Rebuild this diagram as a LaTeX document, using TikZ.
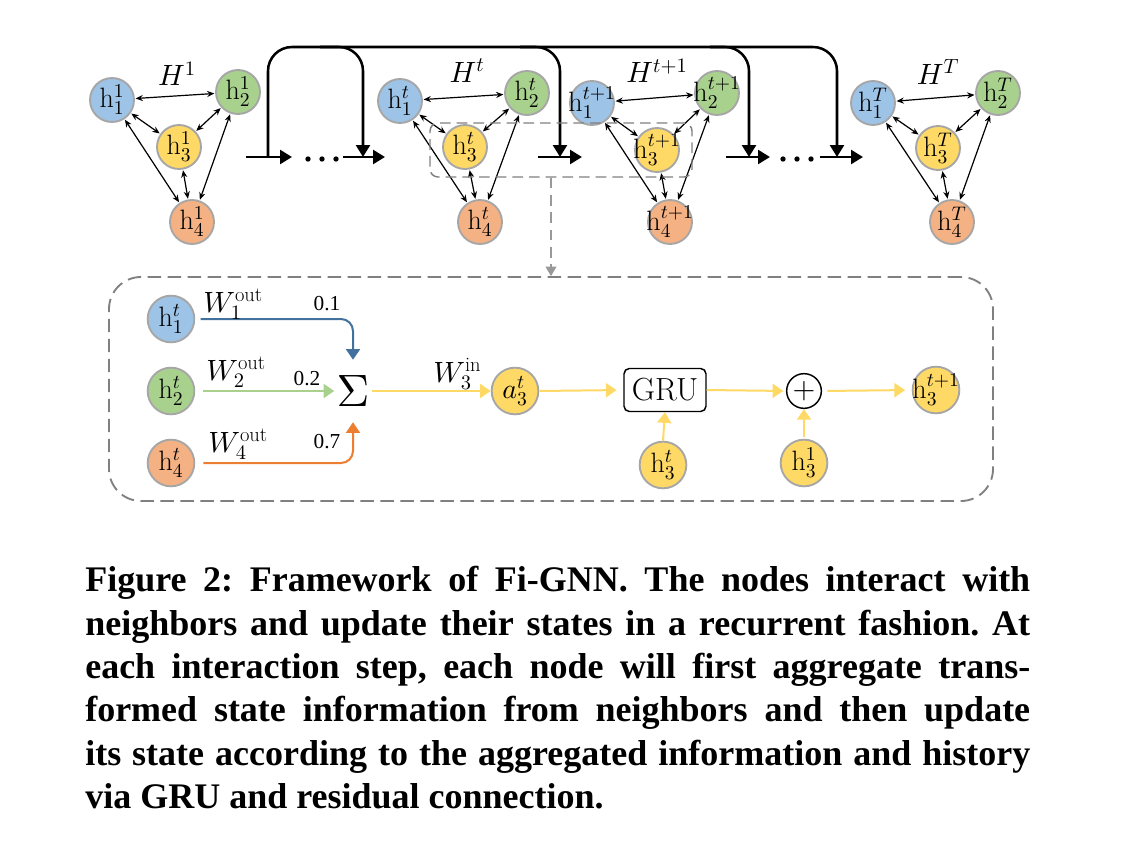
\documentclass[tikz,border=0pt]{standalone}
\DeclareFontShape{OML}{cmm}{m}{it}{<->cmmi10}{}
\DeclareFontShape{OMS}{cmsy}{m}{n}{<->cmsy10}{}
\DeclareFontShape{OMX}{cmex}{m}{n}{<->cmex10}{}
\DeclareFontShape{OT1}{cmr}{m}{n}{<->cmr10}{}
\usepackage{fontspec}
\newfontfamily\capfont{Liberation Serif}
\usetikzlibrary{arrows.meta,calc}
\definecolor{nblue}{HTML}{9DC3E6}
\definecolor{ngreen}{HTML}{A9D18E}
\definecolor{nyellow}{HTML}{FFD966}
\definecolor{norange}{HTML}{F4B183}
\definecolor{nborder}{HTML}{A6A6A6}
\definecolor{lblue}{HTML}{41719C}
\definecolor{lgreen}{HTML}{A9D18E}
\definecolor{lorange}{HTML}{ED7D31}
\definecolor{lyellow}{HTML}{FFD966}
\definecolor{dgray}{HTML}{808080}
\newcommand\labfont{\fontsize{21}{24}\selectfont}
\newcommand\wfont{\fontsize{22}{25}\selectfont}
\newcommand\fourgraph[6]{%
  \node[tn,fill=nblue,label={[lab]center:$\mathrm{h}_1^{#2}$}] (#1a) at #3 {};
  \node[tn,fill=ngreen,label={[lab]center:$\mathrm{h}_2^{#2}$}] (#1b) at #4 {};
  \node[tn,fill=nyellow,label={[lab]center:$\mathrm{h}_3^{#2}$}] (#1c) at #5 {};
  \node[tn,fill=norange,label={[lab]center:$\mathrm{h}_4^{#2}$}] (#1d) at #6 {};
  \draw[edge] (#1a) -- (#1b);
  \draw[edge] (#1a) -- (#1c);
  \draw[edge] (#1b) -- (#1c);
  \draw[edge] (#1a) -- (#1d);
  \draw[edge] (#1b) -- (#1d);
  \draw[edge] (#1c) -- (#1d);
}
\begin{document}
\begin{tikzpicture}[x=0.75pt,y=-0.75pt,
  tn/.style={circle,draw=nborder,line width=1.4pt,minimum size=33pt,inner sep=0pt},
  ln/.style={circle,draw=nborder,line width=1.4pt,minimum size=35pt,inner sep=0pt},
  lab/.style={font=\labfont,inner sep=0pt},
  edge/.style={line width=0.9pt,{Stealth[length=5.5pt,width=4.6pt]}-{Stealth[length=5.5pt,width=4.6pt]},shorten <=0.5pt,shorten >=0.5pt},
  main/.style={line width=1.9pt,-{Triangle[length=9pt,width=10.5pt]}},
  cb/.style={line width=1.5pt,rounded corners=9pt,-{Triangle[length=8pt,width=10.5pt]}},
  glab/.style={font=\wfont,inner sep=0pt},
  wlab/.style={font=\wfont,inner sep=0pt,anchor=base west},
  num/.style={font=\capfont\fontsize{16}{18}\selectfont,inner sep=0pt,anchor=base}
]
\useasboundingbox (0,0) rectangle (1132,846);
\fill[white] (0,0) rectangle (1132,846);

% ---------- top graphs ----------
\fourgraph{g1}{1}{(112,100)}{(238,92)}{(179,147)}{(192,222)}
\fourgraph{gt}{t}{(400,101)}{(527,93)}{(465,147)}{(480,222)}
\fourgraph{gs}{t+1}{(592,103)}{(717,93)}{(657,150)}{(670,222)}
\fourgraph{gT}{T}{(873,103)}{(998,93)}{(938,148)}{(952,222)}

\node[glab] (H1) at (177,74) {$H^1$};
\node[glab] (Ht) at (467,71) {$H^t$};
\node[glab] (Hs) at (657,71) {$H^{t+1}$};
\node[glab] (HT) at (938,72) {$H^T$};

% ---------- recurrent arrows ----------
\draw[main] (246,157) -- (292,157);
\draw[main,rounded corners=18pt] (268,157) -- (268,47) -- (837,47) -- (837,157);
\draw[main,rounded corners=18pt] (320,47) -- (363,47) -- (363,157);
\draw[main,rounded corners=18pt] (520,47) -- (560,47) -- (560,157);
\draw[main,rounded corners=18pt] (710,47) -- (749,47) -- (749,157);
\draw[main] (343,157) -- (385,157);
\draw[main] (538,157) -- (582,157);
\draw[main] (726,157) -- (770,157);
\draw[main] (820,157) -- (863,157);
\foreach \xx in {308,322,336,783,797,811}{\fill (\xx,159) circle (2pt);}

% ---------- dashed boxes ----------
\node[draw=dgray,line width=1.1pt,dash pattern=on 8pt off 4.5pt,rounded corners=6pt,
      minimum width=196.5pt,minimum height=40.5pt,inner sep=0pt] (sbox) at (561,150) {};
\node[draw=dgray,line width=1.4pt,dash pattern=on 10pt off 5pt,rounded corners=24pt,
      minimum width=663pt,minimum height=168pt,inner sep=0pt] (bbox) at (551,389) {};
\draw[draw=dgray!80,line width=1.1pt,dash pattern=on 8pt off 5pt,-{Triangle[length=7pt,width=8pt]}]
  (bbox.north |- sbox.south) -- (bbox.north);

% ---------- lower detail ----------
\node[ln,fill=nblue,label={[lab]center:$\mathrm{h}_1^{t}$}] (h1l) at (171,319) {};
\node[ln,fill=ngreen,label={[lab]center:$\mathrm{h}_2^{t}$}] (h2l) at (171,391) {};
\node[ln,fill=norange,label={[lab]center:$\mathrm{h}_4^{t}$}] (h4l) at (171,463) {};
\node[inner sep=0pt,minimum width=27.75pt,minimum height=46.5pt,font=\fontsize{34}{36}\selectfont] (sig) at (353,391) {$\Sigma$};

\draw[cb,draw=lblue,shorten <=4pt] (h1l.east) -| (sig.north);
\draw[cb,draw=lgreen,shorten <=6pt] (h2l.east) -- (sig.west);
\draw[cb,draw=lorange,shorten <=6pt] (h4l.east) -| (sig.south);

\node[wlab] (w1) at (203,312) {$W_1^{\mathrm{out}}$};
\node[wlab] (w2) at (206,380) {$W_2^{\mathrm{out}}$};
\node[wlab] (w4) at (208,452) {$W_4^{\mathrm{out}}$};
\node[wlab] (w3) at (433,382) {$W_3^{\mathrm{in}}$};
\node[num] (n1) at (327,310) {0.1};
\node[num] (n2) at (307,385) {0.2};
\node[num] (n4) at (327,448) {0.7};

\node[ln,fill=nyellow,label={[lab]center:$a_3^{t}$}] (a3) at (515,391) {};
\node[draw,line width=1.1pt,rounded corners=4pt,minimum width=61.5pt,minimum height=32.25pt,
      inner sep=0pt,font=\fontsize{24}{26}\selectfont] (gru) at (665,390) {GRU};
\node[circle,draw,line width=1.1pt,minimum size=26pt,inner sep=0pt,
      label={[font=\fontsize{22}{24}\selectfont,inner sep=0pt]center:$+$}] (plus) at (804,391) {};
\node[ln,fill=nyellow,label={[lab]center:$\mathrm{h}_3^{t+1}$}] (h3n) at (936,390) {};
\node[ln,fill=nyellow,label={[lab]center:$\mathrm{h}_3^{t}$}] (h3g) at (663,465) {};
\node[ln,fill=nyellow,label={[lab]center:$\mathrm{h}_3^{1}$}] (h31) at (804,463) {};

\draw[cb,draw=lyellow] (sig.east) -- (a3.west);
\draw[cb,draw=lyellow,shorten >=5pt] (a3.east) -- (gru.west);
\draw[cb,draw=lyellow,shorten >=2pt] (gru.east) -- (plus.west);
\draw[cb,draw=lyellow,shorten <=4pt,shorten >=5pt] (plus.east) -- (h3n.west);
\draw[cb,draw=lyellow] (h3g.north) -- (gru.south);
\draw[cb,draw=lyellow,shorten <=1pt] (h31.north) -- (plus.south);

% ---------- caption ----------
\node[anchor=north west,inner sep=0pt,text width=708.75pt,align=justify,
      font=\capfont\bfseries\fontsize{27}{32.55}\selectfont\frenchspacing] (cap) at (85,566)
{Figure 2: Framework of Fi-GNN. The nodes interact with\linebreak
neighbors and update their states in a recurrent fashion. At\linebreak
each interaction step, each node will first aggregate trans-\linebreak
formed state information from neighbors and then update\linebreak
its state according to the aggregated information and history\linebreak
via GRU and residual connection.};
\end{tikzpicture}
\end{document}
